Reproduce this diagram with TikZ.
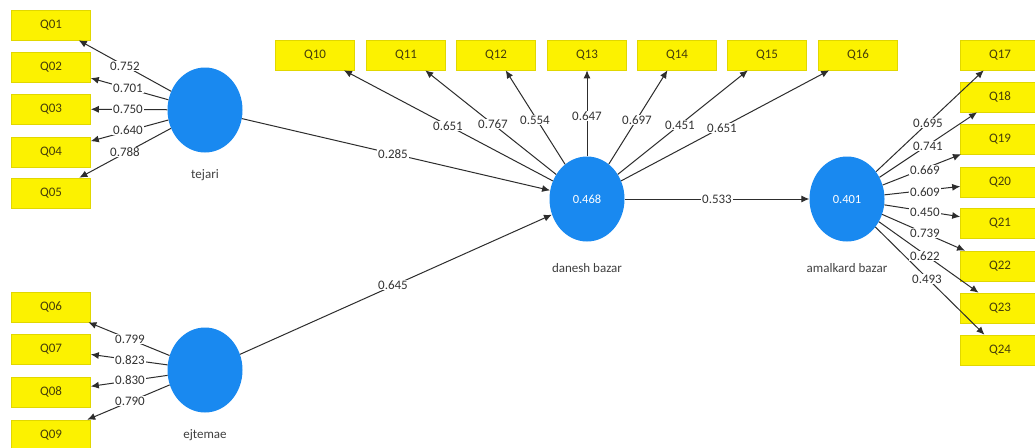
\documentclass[tikz,border=0pt]{standalone}
\usepackage{fontspec}
\setmainfont{Carlito}
\usetikzlibrary{shapes.geometric,arrows.meta}
\definecolor{qyellow}{RGB}{252,242,0}
\definecolor{qborder}{RGB}{225,215,0}
\definecolor{qtext}{RGB}{70,62,10}
\definecolor{lvblue}{RGB}{25,137,240}
\definecolor{edgecol}{RGB}{45,45,45}
\begin{document}
\begin{tikzpicture}[x=1pt,y=-1pt,
  qbox/.style={rectangle,fill=qyellow,draw=qborder,line width=0.6pt,minimum width=79pt,minimum height=30pt,inner sep=0pt,text=qtext,font=\fontsize{13}{13}\selectfont},
  lv/.style={ellipse,fill=lvblue,draw=none,minimum width=75pt,minimum height=85pt,inner sep=0pt,text=white,font=\fontsize{12.5}{12.5}\selectfont},
  lvname/.style={text=black!75,font=\fontsize{13}{13}\selectfont},
  lbl/.style={fill=white,inner sep=0.8pt,text=black!80,font=\fontsize{13}{13}\selectfont},
  arr/.style={draw=edgecol,line width=1pt,-{Latex[length=8pt,width=7pt]}}]
\useasboundingbox (0,0) rectangle (1035,447);
\fill[white] (0,0) rectangle (1035,447);
% latent variables
\node[lv] (tejari) at (205,110) {};
\node[lv] (ejtemae) at (205,370) {};
\node[lv] (danesh) at (587,199) {0.468};
\node[lv] (amal) at (847,199) {0.401};
\node[lvname] (ntejari) at (205,175) {tejari};
\node[lvname] (nejtemae) at (205,435) {ejtemae};
\node[lvname] (ndanesh) at (587,268) {danesh bazar};
\node[lvname] (namal) at (847,268) {amalkard bazar};
% indicator boxes left
\node[qbox] (Q01) at (51,25) {Q01};
\node[qbox] (Q02) at (51,67) {Q02};
\node[qbox] (Q03) at (51,109) {Q03};
\node[qbox] (Q04) at (51,152) {Q04};
\node[qbox] (Q05) at (51,193) {Q05};
\node[qbox] (Q06) at (51,307) {Q06};
\node[qbox] (Q07) at (51,349) {Q07};
\node[qbox] (Q08) at (51,392) {Q08};
\node[qbox] (Q09) at (51,435) {Q09};
% top boxes
\node[qbox] (Q10) at (315,55) {Q10};
\node[qbox] (Q11) at (406,55) {Q11};
\node[qbox] (Q12) at (496,55) {Q12};
\node[qbox] (Q13) at (587,55) {Q13};
\node[qbox] (Q14) at (677,55) {Q14};
\node[qbox] (Q15) at (767,55) {Q15};
\node[qbox] (Q16) at (858,55) {Q16};
% right boxes
\node[qbox] (Q17) at (1000,55) {Q17};
\node[qbox] (Q18) at (1000,97) {Q18};
\node[qbox] (Q19) at (1000,139) {Q19};
\node[qbox] (Q20) at (1000,182) {Q20};
\node[qbox] (Q21) at (1000,223) {Q21};
\node[qbox] (Q22) at (1000,266) {Q22};
\node[qbox] (Q23) at (1000,308) {Q23};
\node[qbox] (Q24) at (1000,350) {Q24};
% edges
\foreach \q in {Q01,Q02,Q03,Q04,Q05} \draw[arr] (tejari) -- (\q);
\foreach \q in {Q06,Q07,Q08,Q09} \draw[arr] (ejtemae) -- (\q);
\foreach \q in {Q10,Q11,Q12,Q13,Q14,Q15,Q16} \draw[arr] (danesh) -- (\q);
\foreach \q in {Q17,Q18,Q19,Q20,Q21,Q22,Q23,Q24} \draw[arr] (amal) -- (\q);
\draw[arr] (tejari) -- (danesh);
\draw[arr] (ejtemae) -- (danesh);
\draw[arr] (danesh) -- (amal);
% labels
\node[lbl] (l01) at (125,66) {0.752};
\node[lbl] (l02) at (128,88) {0.701};
\node[lbl] (l03) at (128,109) {0.750};
\node[lbl] (l04) at (128,130) {0.640};
\node[lbl] (l05) at (125,152) {0.788};
\node[lbl] (l06) at (130,339) {0.799};
\node[lbl] (l07) at (130,360) {0.823};
\node[lbl] (l08) at (130,380) {0.830};
\node[lbl] (l09) at (130,401) {0.790};
\node[lbl] (l10) at (448,126) {0.651};
\node[lbl] (l11) at (493,124) {0.767};
\node[lbl] (l12) at (535,120) {0.554};
\node[lbl] (l13) at (587,116) {0.647};
\node[lbl] (l14) at (637,120) {0.697};
\node[lbl] (l15) at (680,125) {0.451};
\node[lbl] (l16) at (722,128) {0.651};
\node[lbl] (l17) at (928,123) {0.695};
\node[lbl] (l18) at (928,146) {0.741};
\node[lbl] (l19) at (925,170) {0.669};
\node[lbl] (l20) at (925,192) {0.609};
\node[lbl] (l21) at (925,212) {0.450};
\node[lbl] (l22) at (925,233) {0.739};
\node[lbl] (l23) at (925,256) {0.622};
\node[lbl] (l24) at (927,279) {0.493};
\node[lbl] (lp1) at (393,154) {0.285};
\node[lbl] (lp2) at (393,285) {0.645};
\node[lbl] (lp3) at (717,199) {0.533};
\end{tikzpicture}
\end{document}
